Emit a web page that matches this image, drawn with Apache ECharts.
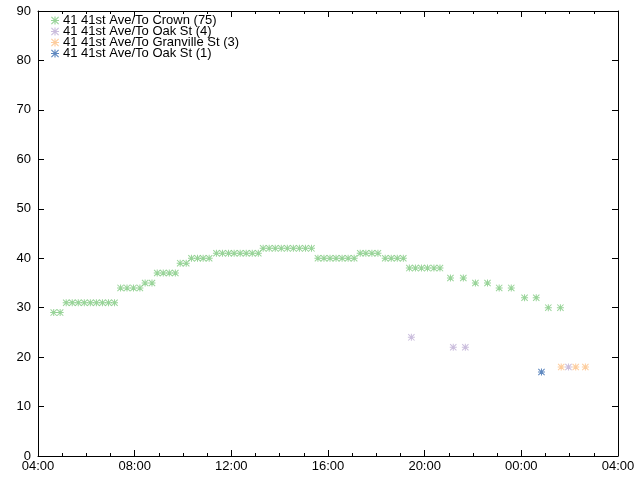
<!DOCTYPE html>
<html><head><meta charset="utf-8">
<script src="https://cdn.jsdelivr.net/npm/echarts@6/dist/echarts.min.js"></script>
<style>html,body{margin:0;padding:0;background:#fff}#c{width:640px;height:480px}</style>
</head><body><div id="c"></div>
<script>
const seriesNames = ["41 41st Ave/To Crown (75)","41 41st Ave/To Oak St (4)","41 41st Ave/To Granville St (3)","41 41st Ave/To Oak St (1)"];
const seriesColors = ["#7fc97f","#beaed4","#fdc086","#386cb0"];
const crownTimes = ["04:39","04:55","05:10","05:25","05:40","05:55","06:10","06:25","06:40","06:55","07:10",
 "07:25","07:41","07:57","08:13","08:26","08:43","08:56","09:11","09:26","09:41","09:53","10:08",
 "10:21","10:36","10:50","11:05","11:23","11:38","11:53","12:07","12:22","12:37","12:52","13:07",
 "13:19","13:34","13:49","14:04","14:19","14:34","14:49","15:04","15:19",
 "15:35","15:50","16:05","16:20","16:35","16:50","17:05","17:20","17:34","17:49","18:04",
 "18:22","18:37","18:52","19:07","19:22","19:37","19:52","20:07","20:23","20:38",
 "21:04","21:36","22:06","22:36","23:05","23:35","00:08","00:37","01:07","01:37"];
const crownValues = [29,29,31,31,31,31,31,31,31,31,31,
 34,34,34,34,35,35,37,37,37,37,39,39,
 40,40,40,40,41,41,41,41,41,41,41,41,
 42,42,42,42,42,42,42,42,42,
 40,40,40,40,40,40,40,41,41,41,41,
 40,40,40,40,38,38,38,38,38,38,
 36,36,35,35,34,34,32,32,30,30];
const oakTimes = ["19:27","21:11","21:41","01:57"];
const oakValues = [24,22,22,18];
const granvilleTimes = ["01:39","02:15","02:39"];
const granvilleValues = [18,18,18];
const oak1Times = ["00:50"];
const oak1Values = [17];

function toHour(t){const p=t.split(":");let h=+p[0]+(+p[1])/60;if(h<4)h+=24;return h;}
function pts(times,vals){return times.map((t,i)=>[toHour(t),vals[i]]);}
const star='path://M6,0L8,0L8,6L14,6L14,8L8,8L8,14L6,14L6,8L0,8L0,6L6,6Z M1.4,0L14,12.6L12.6,14L0,1.4Z M12.6,0L14,1.4L1.4,14L0,12.6Z';
const FONT='Liberation Sans';
const data=[pts(crownTimes,crownValues),pts(oakTimes,oakValues),pts(granvilleTimes,granvilleValues),pts(oak1Times,oak1Values)];
const chart=echarts.init(document.getElementById('c'),null,{renderer:'canvas'});
const axisLine={show:true,onZero:false,lineStyle:{color:'#000',width:1}};
chart.setOption({
 animation:false,
 textStyle:{fontFamily:FONT},
 grid:{left:38,right:22,top:11,bottom:24,show:false},
 legend:{left:51,top:14,padding:0,orient:'vertical',itemWidth:8,itemHeight:8,itemGap:-2,
   textStyle:{fontFamily:FONT,fontSize:13,lineHeight:11,color:'#000',padding:[0,0,0,-1]},
   data:seriesNames.map((n,i)=>({name:n,icon:star,itemStyle:{color:seriesColors[i]}}))},
 xAxis:[
  {type:'value',position:'bottom',min:4,max:28,interval:4,axisLine:axisLine,
   axisTick:{inside:true,length:6,lineStyle:{color:'#000'}},
   minorTick:{show:true,splitNumber:4,length:3,lineStyle:{color:'#000'}},
   splitLine:{show:false},
   axisLabel:{fontFamily:FONT,fontSize:13,color:'#000',margin:4,
     formatter:v=>String(Math.round(v)%24).padStart(2,'0')+':00'}},
  {type:'value',position:'top',min:4,max:28,interval:4,axisLine:axisLine,
   axisTick:{inside:true,length:6,lineStyle:{color:'#000'}},
   minorTick:{show:true,splitNumber:4,length:3,lineStyle:{color:'#000'}},
   splitLine:{show:false},axisLabel:{show:false}}
 ],
 yAxis:[
  {type:'value',position:'left',min:0,max:90,interval:10,axisLine:axisLine,
   axisTick:{inside:true,length:6,lineStyle:{color:'#000'}},splitLine:{show:false},
   axisLabel:{fontFamily:FONT,fontSize:13,color:'#000',margin:7}},
  {type:'value',position:'right',min:0,max:90,interval:10,axisLine:axisLine,
   axisTick:{inside:true,length:6,lineStyle:{color:'#000'}},splitLine:{show:false},
   axisLabel:{show:false}}
 ],
 series:data.map((d,i)=>({name:seriesNames[i],type:'scatter',xAxisIndex:0,yAxisIndex:0,
   data:d,symbol:star,symbolSize:7,itemStyle:{color:seriesColors[i]}}))
});
</script></body></html>
